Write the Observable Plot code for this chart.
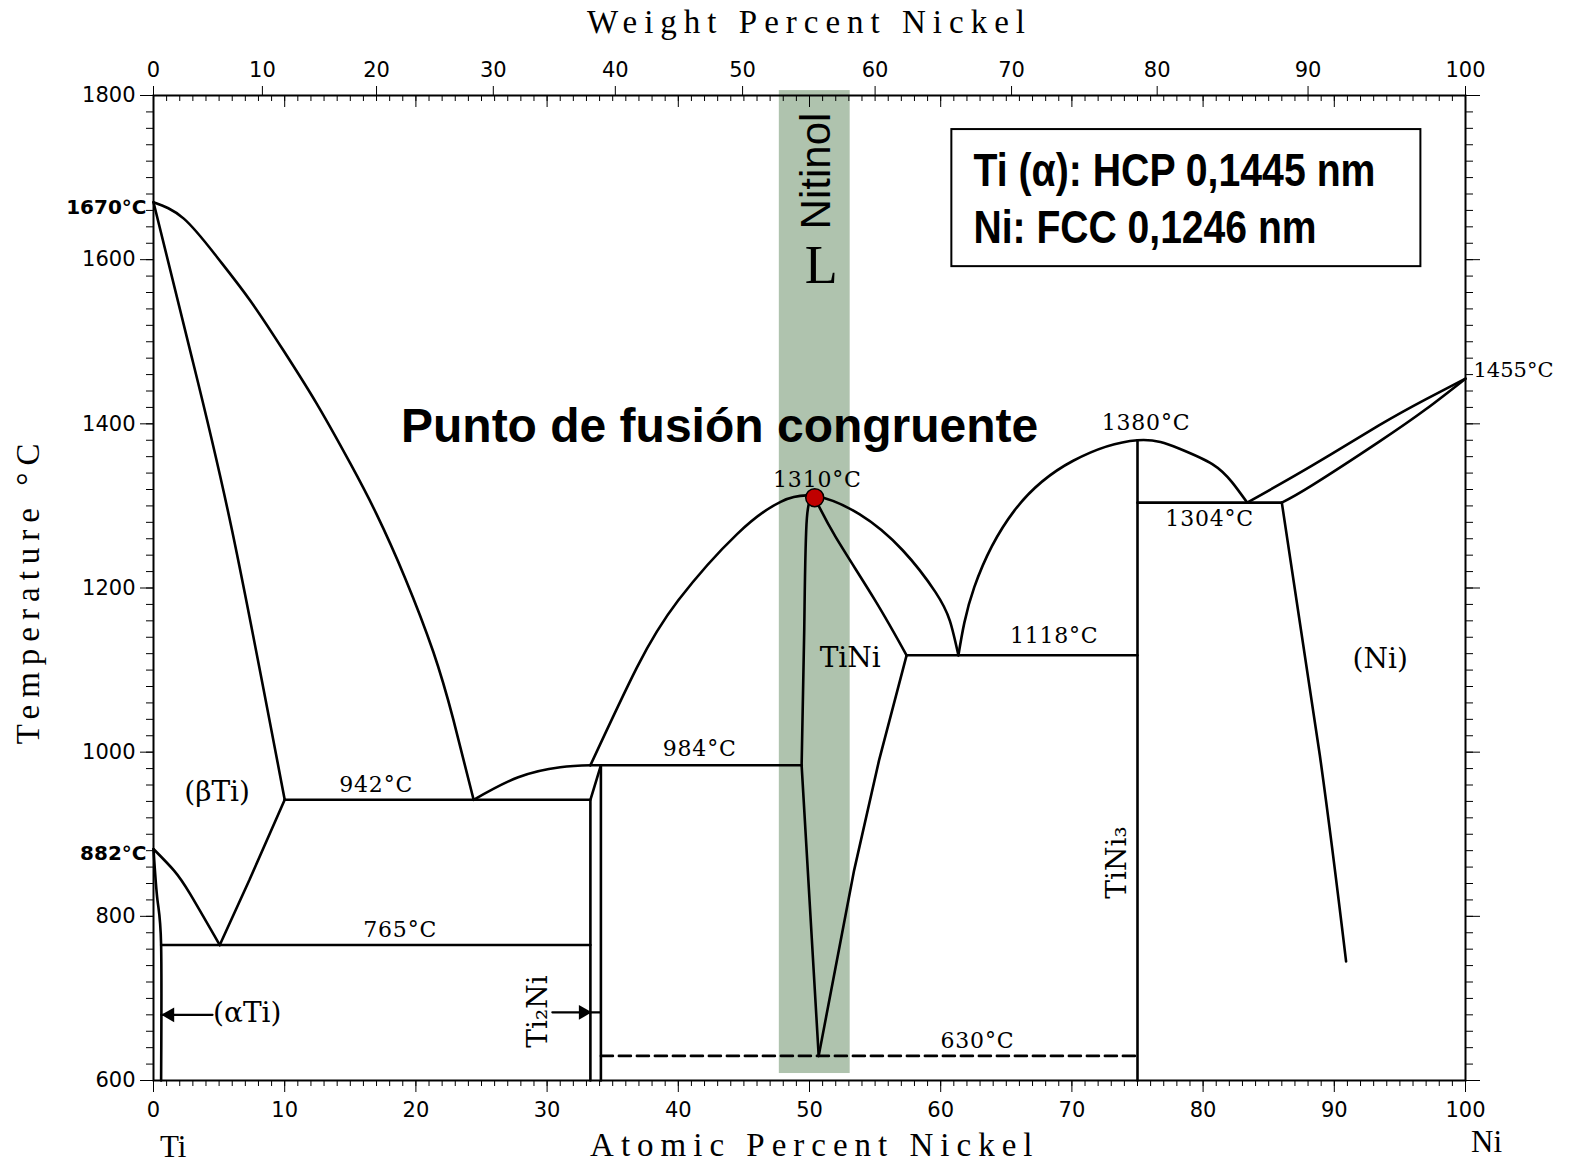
<!DOCTYPE html>
<html><head><meta charset="utf-8">
<script src="https://cdn.jsdelivr.net/npm/d3@7"></script>
<script src="https://cdn.jsdelivr.net/npm/@observablehq/plot@0.6"></script>
<style>
html,body{margin:0;padding:0;background:#fff;}
#chart{width:1572px;height:1168px;}
</style></head><body><div id="chart"></div>
<script>
// ---- Phase boundary data: [atomic % Ni, temperature °C] ----
const liquidusTi = [[0,1670],[2.31,1650],[4.85,1603],[7.38,1550],[9.92,1489],[12.46,1424],[14.99,1352],[17.0,1290],[19.18,1212],[21.33,1122],[22.85,1040],[24.4,942]];
const solidusTi = [[0,1670],[2.92,1481],[5.99,1270],[10,942]];
const betaSolvus = [[10,942],[7.3,844],[5.05,765]];
const alphaBeta = [[0,882],[1.55,856],[2.8,827],[5.05,765]];
const alphaSolvus = [[0,882],[0.3,820],[0.58,765],[0.58,600]];
const eutectic942 = [[10,942],[33.3,942]];
const eutectoid765 = [[0.58,765],[33.3,765]];
const liquidusTi2Ni = [[24.4,942],[27.8,969.5],[31.0,981.7],[33.3,984]];
const ti2NiLeft = [[33.3,600],[33.3,942],[34.1,984]];
const ti2NiRight = [[34.1,600],[34.1,984]];
const peritectic984 = [[33.3,984],[49.4,984]];
const domeTiNi = [[33.3,984],[36.84,1103],[40,1185],[44.5,1266],[47.8,1305],[50.4,1312],[53.8,1290],[57.1,1246],[59.6,1195],[60.7,1160],[61.35,1118]];
const tiNiLeftUpper = [[50.4,1310],[49.8,1285],[49.6,1150],[49.4,984]];
const tiNiLeftLower = [[49.4,984],[50.7,630]];
const tiNiRightLower = [[50.7,630],[53.4,856],[55.3,990],[57.4,1118]];
const tiNiRightUpper = [[50.4,1310],[52.0,1262],[55.0,1185],[57.4,1118]];
const eutectic1118 = [[57.4,1118],[75,1118]];
const dome1380 = [[61.35,1118],[62.56,1201],[65.6,1294],[70.1,1355],[75,1380],[78.16,1370],[80.7,1351],[82.2,1329],[83.36,1304]];
const tiNi3Line = [[75,600],[75,1380]];
const eutectic1304 = [[75,1304],[86,1304]];
const liquidusNi = [[83.36,1304],[88.3,1349],[93.4,1398],[97,1430],[100,1455]];
const solidusNi = [[86,1304],[88.3,1325],[93.4,1378],[97,1418],[100,1455]];
const niSolvus = [[86,1304],[88.9,996],[90.9,745]];
const eutectoid630 = [[34.1,630],[75,630]];

const curvedSeries = [liquidusTi, solidusTi, alphaBeta, alphaSolvus, liquidusTi2Ni, domeTiNi, tiNiLeftUpper, tiNiRightUpper, dome1380, liquidusNi, solidusNi, niSolvus];
const straightSeries = [betaSolvus, eutectic942, eutectoid765, ti2NiLeft, ti2NiRight, peritectic984, tiNiLeftLower, tiNiRightLower, eutectic1118, tiNi3Line, eutectic1304];

// arrows pointing to the narrow (αTi) and Ti2Ni fields
const alphaArrow = [[4.5,680],[0.58,680]];
const ti2NiArrow = [[30.4,683],[34.1,683]];
const arrowHeads = [{x:1.25,y:680,rot:-90},{x:32.75,y:683,rot:90}];

// Nitinol composition band and congruent melting point
const nitinolBand = [{x1:47.7, x2:53.1, y1:608.5, y2:1806}];
const congruentPoint = [[50.4,1310]];

// ---- Axis ticks ----
const atomicMajor = d3.range(0,101,10);
const atomicMinor = d3.range(0,101,1);
const tempMajor = d3.range(600,1801,200);
const tempMinor = d3.range(600,1801,20);
const weightLabels = [0,10,20,30,40,50,60,70,80,90,100];
const weightAtAtomic = [0,8.3,17.0,25.9,35.2,44.9,55.0,65.4,76.5,88.0,100];
const weightByPos = new Map(weightAtAtomic.map((p,i)=>[p, String(weightLabels[i])]));

// ---- Labels ----
const tempLabels = [
  {x:16.97, y:960.6, text:"942°C"},
  {x:18.8, y:784, text:"765°C"},
  {x:41.63, y:1004.5, text:"984°C"},
  {x:50.6, y:1332, text:"1310°C"},
  {x:68.65, y:1141, text:"1118°C"},
  {x:75.65, y:1401, text:"1380°C"},
  {x:80.5, y:1284, text:"1304°C"},
  {x:62.8, y:648.7, text:"630°C"}
];
const phaseLabels = [
  {x:4.85, y:952, text:"(βTi)"},
  {x:53.1, y:1115, text:"TiNi"},
  {x:93.5, y:1114, text:"(Ni)"}
];
const rotatedPhaseLabels = [
  {x:73.44, y:865.6, text:"TiNi₃"},
  {x:29.3, y:684, text:"Ti₂Ni"}
];
const endpointLabelsLeft = [{x:0, y:1670, text:"1670°C"},{x:0, y:882, text:"882°C"}];
const endpointLabelsRight = [{x:100, y:1455, text:"1455°C"}];
const infoBox = [{x1:60.85, x2:96.6, y1:1591.5, y2:1758.5}];
const infoLines = [{x:62.5, y:1708, text:"Ti (α): HCP 0,1445 nm", len:402},{x:62.5, y:1638, text:"Ni: FCC 0,1246 nm", len:343}];
const axisTitles = ["Weight Percent Nickel","Atomic Percent Nickel","Temperature °C"];
const endMemberTi = ["Ti"];
const endMemberNi = ["Ni"];

const serif = "DejaVu Serif, serif";
const tsans = "DejaVu Sans, sans-serif";
const sans = "Liberation Sans, Arial, sans-serif";
const tserif = "Liberation Serif, serif";

const lineMarks = [
  ...curvedSeries.map(s => Plot.line(s, {x:d=>d[0], y:d=>d[1], curve:"natural", stroke:"black", strokeWidth:2.6})),
  ...straightSeries.map(s => Plot.line(s, {x:d=>d[0], y:d=>d[1], stroke:"black", strokeWidth:2.6, strokeLinejoin:"miter"})),
  Plot.line(eutectoid630, {x:d=>d[0], y:d=>d[1], stroke:"black", strokeWidth:2.6, strokeDasharray:"12,6"})
];

const chart = Plot.plot({
  width:1572, height:1168,
  marginLeft:153, marginRight:107, marginTop:95, marginBottom:88,
  x:{domain:[0,100]},
  y:{domain:[600,1800]},
  style:{background:"white", color:"black", fontFamily:tsans, fontSize:"21px", overflow:"visible"},
  marks:[
    Plot.rect(nitinolBand, {x1:"x1", x2:"x2", y1:"y1", y2:"y2", fill:"#afc3ae"}),
    // bottom axis: atomic percent
    Plot.axisX({anchor:"bottom", ticks:atomicMajor, tickSize:12, tickPadding:10, tickFormat:d=>String(d), label:null, fontSize:21, fontFamily:tsans}),
    Plot.axisX({anchor:"bottom", ticks:atomicMinor, tickSize:6, tickFormat:()=>"", label:null}),
    // top axis: weight percent labels outward, atomic ticks inward
    Plot.axisX({anchor:"top", ticks:weightAtAtomic, tickSize:10, tickPadding:9, tickFormat:d=>weightByPos.get(d), label:null, fontSize:21, fontFamily:tsans}),
    Plot.axisX({anchor:"bottom", frameAnchor:"top", ticks:atomicMajor, tickSize:12, tickFormat:()=>"", label:null}),
    Plot.axisX({anchor:"bottom", frameAnchor:"top", ticks:atomicMinor, tickSize:6, tickFormat:()=>"", label:null}),
    // left and right temperature axes
    Plot.axisY({anchor:"left", ticks:tempMajor, tickSize:13, tickPadding:5, tickFormat:d=>String(d), label:null, fontSize:21, fontFamily:tsans}),
    Plot.axisY({anchor:"left", ticks:tempMinor, tickSize:7, tickFormat:()=>"", label:null}),
    Plot.axisY({anchor:"right", ticks:tempMajor, tickSize:14, tickFormat:()=>"", label:null}),
    Plot.axisY({anchor:"right", ticks:tempMinor, tickSize:7, tickFormat:()=>"", label:null}),
    Plot.frame({stroke:"black", strokeWidth:2}),
    ...lineMarks,
    Plot.line(alphaArrow, {x:d=>d[0], y:d=>d[1], stroke:"black", strokeWidth:2.2}),
    Plot.line(ti2NiArrow, {x:d=>d[0], y:d=>d[1], stroke:"black", strokeWidth:2.2}),
    Plot.dot(arrowHeads, {x:"x", y:"y", rotate:"rot", symbol:"triangle", r:5.5, fill:"black", stroke:null}),
    // labels
    Plot.text(tempLabels, {x:"x", y:"y", text:"text", fontFamily:serif, fontSize:22}),
    Plot.text(phaseLabels, {x:"x", y:"y", text:"text", fontFamily:serif, fontSize:28}),
    Plot.text([{x:4.54, y:681.6, text:"(αTi)"}], {x:"x", y:"y", text:"text", fontFamily:serif, fontSize:28, textAnchor:"start"}),
    Plot.text(rotatedPhaseLabels, {x:"x", y:"y", text:"text", fontFamily:serif, fontSize:28, rotate:-90}),
    Plot.text(endpointLabelsLeft, {x:"x", y:"y", text:"text", fontFamily:tsans, fontWeight:"bold", fontSize:20, textAnchor:"end", dx:-7, dy:5}),
    Plot.text(endpointLabelsRight, {x:"x", y:"y", text:"text", fontFamily:serif, fontSize:21, textAnchor:"start", dx:8, dy:-8}),
    Plot.text(["L"], {x:50.9, y:1593, text:d=>d, fontFamily:tserif, fontSize:54}),
    Plot.text(["Nitinol"], {x:50.5, y:1708, text:d=>d, fontFamily:sans, fontSize:42, rotate:-90}),
    Plot.text(["Punto de fusión congruente"], {x:43.15, y:1396, text:d=>d, fontFamily:sans, fontWeight:"bold", fontSize:48}),
    Plot.dot(congruentPoint, {x:d=>d[0], y:d=>d[1], r:9, fill:"#c00000", stroke:"black", strokeWidth:1.5}),
    Plot.rect(infoBox, {x1:"x1", x2:"x2", y1:"y1", y2:"y2", fill:"white", stroke:"black", strokeWidth:2}),
    Plot.text(infoLines, {x:"x", y:"y", text:"text", fontFamily:sans, fontWeight:"bold", fontSize:46, textAnchor:"start"}),
    // axis titles
    Plot.text([axisTitles[0]], {x:50, frameAnchor:"top", dy:-73, lineAnchor:"middle", text:d=>d, fontFamily:tserif, fontSize:33}),
    Plot.text([axisTitles[1]], {x:50.4, frameAnchor:"bottom", dy:65, lineAnchor:"middle", text:d=>d, fontFamily:tserif, fontSize:33}),
    Plot.text([axisTitles[2]], {y:1197, frameAnchor:"left", dx:-125, rotate:-90, textAnchor:"middle", lineAnchor:"middle", text:d=>d, fontFamily:tserif, fontSize:33}),
    Plot.text(endMemberTi, {x:1.5, frameAnchor:"bottom", dy:67, lineAnchor:"middle", text:d=>d, fontFamily:tserif, fontSize:31}),
    Plot.text(endMemberNi, {x:101.6, frameAnchor:"bottom", dy:62, lineAnchor:"middle", text:d=>d, fontFamily:tserif, fontSize:31})
  ]
});
document.getElementById("chart").appendChild(chart);

// typographic touches: spaced-out axis titles, condensed info box text
const titleSet = new Set(axisTitles);
const tempSet = new Set(tempLabels.map(d=>d.text));
const lenByText = new Map(infoLines.map(d=>[d.text, d.len]));
d3.select(chart).selectAll("text").each(function(){
  const t = this.textContent;
  if (titleSet.has(t)) this.style.letterSpacing = "7px";
  else if (tempSet.has(t)) this.style.letterSpacing = "0.8px";
  else if (lenByText.has(t)) { this.setAttribute("textLength", lenByText.get(t)); this.setAttribute("lengthAdjust","spacingAndGlyphs"); }
});
</script></body></html>
